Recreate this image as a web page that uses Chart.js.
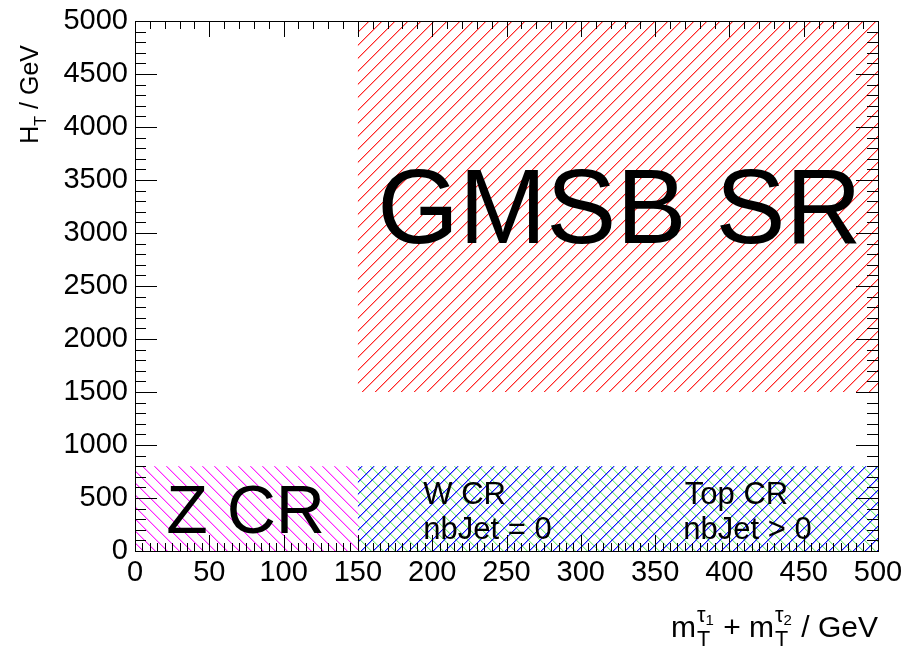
<!DOCTYPE html>
<html>
<head>
<meta charset="utf-8">
<script src="https://cdn.jsdelivr.net/npm/chart.js@4.4.0/dist/chart.umd.min.js"></script>
<style>
  html, body { margin: 0; padding: 0; background: #fff; }
  #wrap { width: 906px; height: 647px; }
</style>
</head>
<body>
<div id="wrap"><canvas id="regions"></canvas></div>
<script>
// region boxes in (mT1 + mT2, HT) space
const regionNames = ['GMSB SR', 'Z CR', 'W CR / Top CR'];
const regionXMin = [150, 0, 150];
const regionXMax = [500, 150, 500];
const regionYMin = [1500, 0, 0];
const regionYMax = [5000, 800, 800];

// text labels, anchored at data coordinates (left edge, baseline)
const labelTexts = ['GMSB SR', 'Z CR', 'W CR', 'nbJet = 0', 'Top CR', 'nbJet > 0'];
const labelX = [163, 21, 194, 194, 370, 369];
const labelY = [2905, 174, 443, 113, 443, 113];

const xTickValues = [0, 50, 100, 150, 200, 250, 300, 350, 400, 450, 500];
const yTickValues = [0, 500, 1000, 1500, 2000, 2500, 3000, 3500, 4000, 4500, 5000];

const FONT = '"Liberation Sans", Arial, Helvetica, sans-serif';
const labelSize = [105, 68, 31, 31, 31, 31];

const canvas = document.getElementById('regions');
const ctx0 = canvas.getContext('2d');

// pixel hatch tile: a 1px diagonal with a paler neighbour pixel, like ROOT's hatches
function hatch(lines, p) {
  const c = document.createElement('canvas');
  c.width = p; c.height = p;
  const g = c.getContext('2d');
  lines.forEach(l => {
    g.fillStyle = l.color;
    for (let i = 0; i < p; i++) {
      const yy = l.dir === '/' ? p - 1 - i : i;
      g.globalAlpha = l.a * 0.4;
      g.fillRect((i + 1) % p, yy, 1, 1);
      g.globalAlpha = l.a;
      g.fillRect(i, yy, 1, 1);
    }
  });
  return ctx0.createPattern(c, 'repeat');
}

const fills = [
  hatch([{ color: '#ff0000', dir: '/', a: 0.85 }], 13),
  hatch([{ color: '#ff00ff', dir: '\\', a: 0.85 }], 12),
  hatch([{ color: '#00dd00', dir: '\\', a: 0.5 }, { color: '#0000ff', dir: '/', a: 0.95 }], 12)
];

// text with sub/superscripts: clusters -> rows -> runs [text, scale, dy(em)]
function clusterWidth(ctx, rows, size) {
  let cw = 0;
  rows.forEach(runs => {
    let rw = 0;
    runs.forEach(r => { ctx.font = (size * r[1]) + 'px ' + FONT; rw += ctx.measureText(r[0]).width; });
    cw = Math.max(cw, rw);
  });
  return cw + (rows.length > 1 ? 2 : 0);
}
function richWidth(ctx, clusters, size) {
  return clusters.reduce((w, rows) => w + clusterWidth(ctx, rows, size), 0);
}
function drawRich(ctx, clusters, x, y, size) {
  ctx.textAlign = 'left';
  ctx.textBaseline = 'alphabetic';
  let cx = x;
  clusters.forEach(rows => {
    rows.forEach(runs => {
      let rx = cx + (rows.length > 1 ? 1 : 0);
      runs.forEach(r => {
        ctx.font = (size * r[1]) + 'px ' + FONT;
        ctx.fillText(r[0], rx, y + r[2] * size);
        rx += ctx.measureText(r[0]).width;
      });
    });
    cx += clusterWidth(ctx, rows, size);
  });
}

const xTitle = [
  [[['m', 1, 0]]],
  [[['τ', 0.72, -0.5], ['1', 0.5, -0.4]], [['T', 0.72, 0.3]]],
  [[[' + ', 1, 0]]],
  [[['m', 1, 0]]],
  [[['τ', 0.72, -0.5], ['2', 0.5, -0.4]], [['T', 0.72, 0.3]]],
  [[[' / GeV', 1, 0]]]
];
const yTitle = [
  [[['H', 1, 0]]],
  [[['T', 0.65, 0.3]]],
  [[[' / GeV', 1, 0]]]
];

const boxes = {
  id: 'boxes',
  beforeDatasetsDraw(chart) {
    const { ctx, scales: { x, y } } = chart;
    ctx.save();
    regionNames.forEach((n, i) => {
      const x0 = x.getPixelForValue(regionXMin[i]), x1 = x.getPixelForValue(regionXMax[i]);
      const y0 = y.getPixelForValue(regionYMax[i]), y1 = y.getPixelForValue(regionYMin[i]);
      ctx.fillStyle = fills[i];
      ctx.fillRect(x0, y0, x1 - x0, y1 - y0);
    });
    ctx.restore();
  },
  afterDatasetsDraw(chart) {
    const { ctx, chartArea: a, scales: { x, y } } = chart;
    ctx.save();
    // labels inside the plot
    ctx.fillStyle = '#000';
    ctx.textAlign = 'left';
    ctx.textBaseline = 'alphabetic';
    labelTexts.forEach((t, i) => {
      ctx.font = labelSize[i] + 'px ' + FONT;
      ctx.fillText(t, x.getPixelForValue(labelX[i]), y.getPixelForValue(labelY[i]));
    });
    // ticks pointing inwards
    ctx.strokeStyle = '#000';
    ctx.lineWidth = 1;
    ctx.beginPath();
    for (let v = 0; v <= 500; v += 5) {
      const px = Math.round(x.getPixelForValue(v)) + 0.5;
      const len = v % 50 === 0 ? 16 : 8;
      ctx.moveTo(px, a.bottom); ctx.lineTo(px, a.bottom - len);
      if (v % 10 === 0) { ctx.moveTo(px, a.top); ctx.lineTo(px, a.top + len); }
    }
    for (let v = 0; v <= 5000; v += 100) {
      const py = Math.round(y.getPixelForValue(v)) + 0.5;
      const len = v % 500 === 0 ? 22 : 11;
      ctx.moveTo(a.left, py); ctx.lineTo(a.left + len, py);
      ctx.moveTo(a.right, py); ctx.lineTo(a.right - len, py);
    }
    ctx.stroke();
    ctx.strokeRect(Math.round(a.left) + 0.5, Math.round(a.top) + 0.5,
      Math.round(a.right - a.left), Math.round(a.bottom - a.top));
    // axis titles
    const xs = 30;
    const xw = richWidth(ctx, xTitle, xs);
    drawRich(ctx, xTitle, a.right - xw, 637, xs);
    const ys = 25;
    const yw = richWidth(ctx, yTitle, ys);
    ctx.translate(38, 45);
    ctx.rotate(-Math.PI / 2);
    drawRich(ctx, yTitle, -yw, 0, ys);
    ctx.restore();
  }
};

new Chart(canvas, {
  type: 'line',
  data: { datasets: [] },
  options: {
    responsive: true,
    maintainAspectRatio: false,
    animation: false,
    layout: { padding: { left: 0, right: 28, top: 21, bottom: 0 } },
    plugins: { legend: { display: false }, tooltip: { enabled: false } },
    scales: {
      x: {
        type: 'linear', min: 0, max: 500,
        afterBuildTicks: s => { s.ticks = xTickValues.map(v => ({ value: v })); },
        afterFit: s => { s.height = 96; s.paddingLeft = 0; s.paddingRight = 0; },
        grid: { display: false, drawTicks: false },
        border: { display: false },
        ticks: { color: '#000', font: { family: FONT, size: 29 }, padding: 5, maxRotation: 0, autoSkip: false,
          callback: v => String(v) }
      },
      y: {
        type: 'linear', min: 0, max: 5000,
        afterBuildTicks: s => { s.ticks = yTickValues.map(v => ({ value: v })); },
        afterFit: s => { s.width = 135; s.paddingTop = 0; s.paddingBottom = 0; },
        grid: { display: false, drawTicks: false },
        border: { display: false },
        ticks: { color: '#000', font: { family: FONT, size: 29 }, padding: 7, autoSkip: false,
          callback: v => String(v) }
      }
    }
  },
  plugins: [boxes]
});
</script>
</body>
</html>
